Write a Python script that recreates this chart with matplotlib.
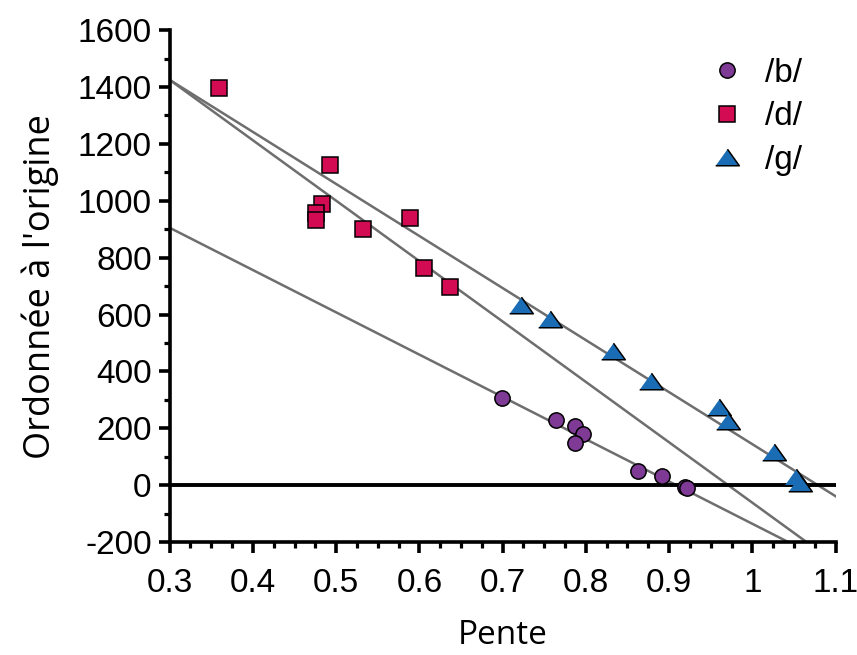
import numpy as np
import matplotlib
matplotlib.use("Agg")
import matplotlib.pyplot as plt
from matplotlib.ticker import MultipleLocator, AutoMinorLocator

# Data
b_slope = [0.699, 0.764, 0.787, 0.797, 0.787, 0.863, 0.892, 0.919, 0.922]
b_icpt  = [305, 228, 208, 180, 148, 48, 33, -8, -10]

d_slope = [0.359, 0.493, 0.483, 0.476, 0.476, 0.532, 0.589, 0.605, 0.637]
d_icpt  = [1395, 1125, 990, 958, 932, 900, 940, 765, 695]

g_slope = [0.722, 0.757, 0.832, 0.878, 0.960, 0.971, 1.026, 1.052, 1.057]
g_icpt  = [635, 585, 470, 365, 275, 225, 118, 30, 8]

# regression lines: value at x=0.3 and slope
fit_x0    = 0.3
fit_at_x0 = {"b": 905, "d": 1425, "g": 1425}
fit_slope = {"b": -1487, "d": -2124, "g": -1830}

colors = {"b": "#7f3a96", "d": "#d30b52", "g": "#1a6db4"}
labels = {"b": "/b/", "d": "/d/", "g": "/g/"}

plt.rcParams["font.family"] = ["Liberation Sans", "DejaVu Sans"]
plt.rcParams["axes.unicode_minus"] = False

fig = plt.figure(figsize=(8.57, 6.55), dpi=100)
ax = fig.add_axes([0.198, 0.1725, 0.777, 0.7815])

xs = np.array([0.3, 1.1])
for key in ["b", "d", "g"]:
    ax.plot(xs, fit_at_x0[key] + fit_slope[key] * (xs - fit_x0),
            color="#6e6e6e", lw=1.8, zorder=2)

ax.axhline(0, color="k", lw=2.8, zorder=2.5)

tri = [(-1, -0.7), (1, -0.7), (0, 0.7)]
ax.plot(b_slope, b_icpt, "o", ms=11, mfc=colors["b"], mec="k", mew=1.1,
        label=labels["b"], zorder=3)
ax.plot(d_slope, d_icpt, "s", ms=11, mfc=colors["d"], mec="k", mew=1.1,
        label=labels["d"], zorder=3)
ax.plot(g_slope, g_icpt, ls="none", marker=tri, ms=17, mfc=colors["g"], mec="k",
        mew=1.1, label=labels["g"], zorder=3)

ax.set_xlim(0.3, 1.1)
ax.set_ylim(-200, 1600)
ax.xaxis.set_major_locator(MultipleLocator(0.1))
ax.xaxis.set_minor_locator(AutoMinorLocator(4))
ax.yaxis.set_major_locator(MultipleLocator(200))
ax.yaxis.set_minor_locator(AutoMinorLocator(2))
ax.set_xticks(np.arange(0.3, 1.101, 0.1))
ax.set_xticklabels(["0.3", "0.4", "0.5", "0.6", "0.7", "0.8", "0.9", "1", "1.1"])

for side in ["top", "right"]:
    ax.spines[side].set_visible(False)
for side in ["left", "bottom"]:
    ax.spines[side].set_linewidth(2.6)

ax.tick_params(which="major", direction="out", length=8, width=2.6,
               labelsize=24, pad=5)
ax.tick_params(which="minor", direction="out", length=4.5, width=2.3)
ax.tick_params(axis="x", which="major", pad=11)

ax.set_xlabel("Pente", fontsize=24, family=["Open Sans", "DejaVu Sans"], labelpad=14)
ax.set_ylabel("Ordonnée à l'origine", fontsize=26, family=["Open Sans", "DejaVu Sans"],
              labelpad=13)

ax.legend(loc="upper right", bbox_to_anchor=(0.98, 0.985), frameon=False, fontsize=24,
          handletextpad=0.15, labelspacing=0.38, borderaxespad=0.2)

fig.savefig("out.png", dpi=100)
